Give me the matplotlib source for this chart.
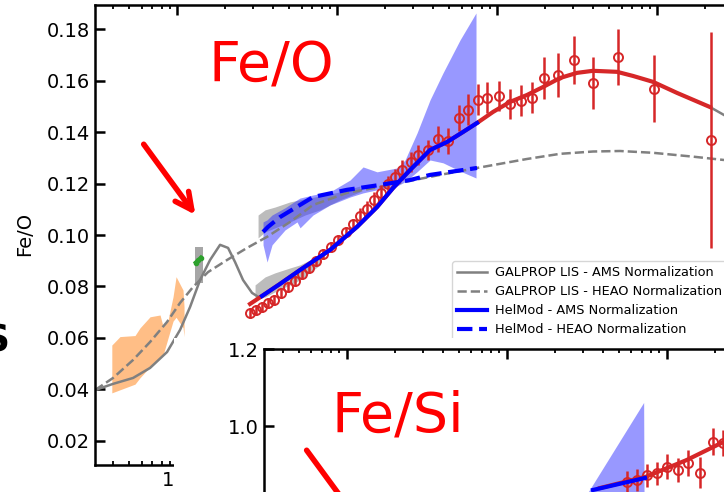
import matplotlib
matplotlib.use('Agg')
import matplotlib.pyplot as plt
from matplotlib.patches import Rectangle
import numpy as np

# ---- Fe/O : AMS data (rigidity GV, ratio, error) ----
ams_r = [2.859, 3.117, 3.398, 3.705, 4.040, 4.467, 4.941, 5.464, 6.043, 6.683, 7.391, 8.175,
         9.173, 10.15, 11.38, 12.59, 13.92, 15.40, 17.03, 18.84, 20.83, 23.04, 25.48, 29.01,
         32.08, 37.05, 42.78, 49.41, 57.88, 65.88, 76.07, 86.60, 102.9, 120.6, 141.3, 165.5,
         196.7, 240.6, 302.9, 398.1, 570.5, 957.8, 2175]
ams_feo = [0.0697, 0.0709, 0.0720, 0.0736, 0.0748, 0.0775, 0.0798, 0.0821, 0.0849, 0.0872,
           0.0899, 0.0927, 0.0954, 0.0981, 0.1012, 0.1043, 0.1074, 0.1102, 0.1137, 0.1164,
           0.1199, 0.1226, 0.1253, 0.1284, 0.1312, 0.1331, 0.1374, 0.1366, 0.1456, 0.1487,
           0.1526, 0.1534, 0.1541, 0.1510, 0.1522, 0.1534, 0.1611, 0.1623, 0.1681, 0.1592,
           0.1693, 0.1569, 0.1370]
ams_err = [0.002, 0.002, 0.002, 0.002, 0.002, 0.002, 0.002, 0.002, 0.002, 0.002, 0.002, 0.002,
           0.002, 0.002, 0.002, 0.002, 0.003, 0.003, 0.003, 0.003, 0.003, 0.003, 0.004, 0.004,
           0.004, 0.004, 0.005, 0.005, 0.005, 0.006, 0.006, 0.006, 0.006, 0.006, 0.006, 0.006,
           0.008, 0.0086, 0.0093, 0.010, 0.011, 0.013, 0.042]

# GALPROP LIS, AMS normalization
lis_ams_r = [0.3073, 0.3981, 0.5309, 0.6780, 0.8660, 1.0441, 1.2058, 1.3925, 1.6081, 1.8571,
             2.0837, 2.3041, 2.5852, 2.9427, 3.3018, 4.404, 5.872, 9.041, 13.34, 17.78, 22.39,
             28.59, 38.14, 48.70, 61.31, 74.99, 94.41, 120.6, 154.0, 193.9, 247.6, 316.2, 398.1,
             562.3, 707.9, 944.1, 1333.5, 2144, 2623]
lis_ams = [0.0397, 0.0421, 0.0444, 0.0483, 0.0545, 0.0631, 0.0720, 0.0825, 0.0903, 0.0962,
           0.0950, 0.0895, 0.0825, 0.0775, 0.0755, 0.0810, 0.0864, 0.0942, 0.1032, 0.1109,
           0.1183, 0.1253, 0.1331, 0.1362, 0.1401, 0.1436, 0.1479, 0.1518, 0.1545, 0.1576,
           0.1611, 0.1631, 0.1639, 0.1635, 0.1619, 0.1596, 0.1553, 0.1498, 0.1467]

# GALPROP LIS, HEAO normalization
lis_heao_r = [0.3073, 0.3981, 0.5309, 0.6780, 0.8660, 1.0441, 1.2589, 1.5625, 2.0535, 2.7384,
              3.6517, 5.0851, 7.0795, 11.548, 18.570, 28.59, 44.03, 74.99, 154.0, 247.6, 398.1,
              587.1, 944.1, 1679, 2623]
lis_heao = [0.0397, 0.0444, 0.0514, 0.0584, 0.0662, 0.0736, 0.0798, 0.0856, 0.0903, 0.0950,
            0.0993, 0.1051, 0.1117, 0.1164, 0.1187, 0.1211, 0.1234, 0.1261, 0.1296, 0.1316,
            0.1325, 0.1327, 0.1320, 0.1305, 0.1292]

# HelMod modulated, AMS normalization (red beyond AMS-Fe range)
hm_r = [2.859, 3.398, 4.404, 5.872, 9.041, 13.34, 17.78, 22.39, 28.59, 38.14, 48.70, 61.31,
        74.99, 94.41, 120.6, 154.0, 193.9, 247.6, 316.2, 398.1, 562.3, 707.9, 944.1, 1333.5, 2144]
hm_ams = [0.0732, 0.0763, 0.0810, 0.0864, 0.0942, 0.1032, 0.1109, 0.1183, 0.1253, 0.1331,
          0.1362, 0.1401, 0.1436, 0.1479, 0.1518, 0.1545, 0.1576, 0.1611, 0.1631, 0.1639,
          0.1635, 0.1619, 0.1596, 0.1553, 0.1498]
hm_blue_r = hm_r[1:13]
hm_blue = hm_ams[1:13]

# HelMod modulated, HEAO normalization
hm_heao_r = [3.447, 3.705, 4.404, 7.080, 11.548, 18.570, 28.59, 38.14, 61.31, 74.99]
hm_heao = [0.1012, 0.1032, 0.1070, 0.1148, 0.1176, 0.1195, 0.1214, 0.1234, 0.1253, 0.1261]

# HEAO band (blue)
band_r = [3.447, 3.652, 3.925, 4.732, 5.623, 5.872, 7.080, 9.041, 12.06, 14.54, 17.78, 23.71,
          26.61, 31.62, 38.14, 45.97, 58.72, 73.9]
band_hi = [0.1051, 0.1059, 0.1078, 0.1106, 0.1137, 0.1144, 0.1156, 0.1168, 0.1214, 0.1265,
           0.1246, 0.1261, 0.1292, 0.1397, 0.1526, 0.1631, 0.1759, 0.1864]
band_lo = [0.0962, 0.0895, 0.0962, 0.1020, 0.1051, 0.1028, 0.1078, 0.1117, 0.1148, 0.1164,
           0.1176, 0.1191, 0.1207, 0.1246, 0.1292, 0.1281, 0.1249, 0.1222]

# gray bands
grayA_r = [3.209, 3.548, 4.097, 5.085, 6.310, 7.830, 10.44, 13.92]
grayA_hi = [0.1078, 0.1098, 0.1109, 0.1129, 0.1141, 0.1152, 0.1168, 0.1191]
grayA_lo = [0.0989, 0.1012, 0.1028, 0.1051, 0.1078, 0.1098, 0.1137, 0.1168]
grayB_r = [3.073, 3.548, 4.097, 5.085, 5.872, 7.830]
grayB_hi = [0.0806, 0.0837, 0.0853, 0.0872, 0.0884, 0.0923]
grayB_lo = [0.0748, 0.0759, 0.0779, 0.0806, 0.0825, 0.0884]

# ACE (orange band)
ace_r = [0.391, 0.440, 0.546, 0.587, 0.678, 0.783, 0.818, 0.879, 0.944, 0.986, 1.09, 1.106]
ace_hi = [0.0572, 0.0605, 0.0609, 0.0639, 0.0682, 0.0689, 0.0644, 0.0670, 0.0760, 0.0838, 0.0786, 0.0721]
ace_lo = [0.0386, 0.0398, 0.0420, 0.0445, 0.0488, 0.0527, 0.0533, 0.0600, 0.0665, 0.0680, 0.0640, 0.0605]

# Voyager
voy_band_r = [1.296, 1.454]
voy_band_hi = [0.0954, 0.0954]
voy_band_lo = [0.0814, 0.0814]
voy_r = [1.31, 1.36, 1.41]
voy = [0.0893, 0.0902, 0.0912]

# ---- Fe/Si inset ----
fesi_r = [562.3, 649.4, 749.9, 866.0, 1000, 1181.5, 1364.6, 1614.4, 1939.7, 2249]
fesi = [0.8548, 0.8592, 0.8722, 0.8767, 0.8939, 0.8853, 0.9043, 0.8782, 0.9591, 0.9557]
fesi_err = [0.029, 0.029, 0.030, 0.030, 0.032, 0.032, 0.034, 0.041, 0.035, 0.035]
fesi_model_r = [383.1, 742.4, 1333.5, 2280]
fesi_model = [0.8383, 0.8678, 0.9113, 0.9591]
fesi_blue_r = [346.1, 731.5]
fesi_blue = [0.8332, 0.8645]
fesi_tri_r = [124.6, 722.8, 731.5]
fesi_tri = [0.5463, 1.060, 0.5463]

W, H = 724, 492
fig = plt.figure(figsize=(W / 100, H / 100), dpi=100)


def px_axes(x0, y0, x1, y1):
    # pixel box (top-left origin) -> figure fraction
    return [x0 / W, 1 - y1 / H, (x1 - x0) / W, (y1 - y0) / H]


ax = fig.add_axes(px_axes(95, 5, 820, 465))
ax.set_xscale('log')

ax.fill_between(ace_r, ace_lo, ace_hi, color='#ff7f0e', alpha=0.5, lw=0)
ax.fill_between(voy_band_r, voy_band_lo, voy_band_hi, color='gray', alpha=0.7, lw=0)
ax.plot(voy_r, voy, color='#2ca02c', lw=3, marker='o', ms=3)
ax.fill_between(grayA_r, grayA_lo, grayA_hi, color='#a0a0a0', alpha=0.7, lw=0)
ax.fill_between(grayB_r, grayB_lo, grayB_hi, color='#a0a0a0', alpha=0.7, lw=0)
ax.fill_between(band_r, band_lo, band_hi, color='#3333ff', alpha=0.5, lw=0)

l1, = ax.plot(lis_ams_r, lis_ams, color='gray', lw=1.8, label='GALPROP LIS - AMS Normalization')
l2, = ax.plot(lis_heao_r, lis_heao, color='gray', lw=1.8, ls='--', label='GALPROP LIS - HEAO Normalization')
ax.plot(hm_r, hm_ams, color='#d62728', lw=3, zorder=3)
ax.errorbar(ams_r, ams_feo, yerr=ams_err, fmt='o', mfc='none', mec='#d62728', ecolor='#d62728',
            ms=6.5, mew=1.4, elinewidth=1.8, zorder=3)
l3, = ax.plot(hm_blue_r, hm_blue, color='blue', lw=3, zorder=4, label='HelMod - AMS Normalization')
l4, = ax.plot(hm_heao_r, hm_heao, color='blue', lw=3, ls='--', zorder=4, label='HelMod - HEAO Normalization')

ax.set_xlim(0.307, 10440)
ax.set_ylim(0.01054, 0.1895)
ax.set_yticks(np.arange(0.02, 0.181, 0.02))
ax.set_yticklabels(['%.2f' % v for v in np.arange(0.02, 0.181, 0.02)])
ax.tick_params(which='both', direction='in', top=True, right=True, labelsize=14, width=1.8)
ax.tick_params(which='major', length=7.5)
ax.tick_params(which='minor', length=3, width=1.3)
ax.tick_params(axis='x', labelbottom=False)
ax.text((168 - 95) / 725, -0.012, '1', transform=ax.transAxes, ha='center', va='top', fontsize=14)
for s in ax.spines.values():
    s.set_linewidth(1.8)

ax.set_ylabel('Fe/O', fontsize=14)
ax.yaxis.set_label_coords(-61 / 725, 1 - 229 / 460)

ax.text(1.5625, 0.1596, 'Fe/O', color='red', fontsize=40, va='baseline')
ax.annotate('', xy=(1.3335, 0.1070), xytext=(0.6043, 0.1362),
            arrowprops=dict(arrowstyle='->', color='red', lw=4, mutation_scale=30))

ax.legend(handles=[l1, l2, l3, l4], fontsize=9.3, loc='upper left', handlelength=2.3,
          bbox_to_anchor=(452 / W, 1 - 261 / H), bbox_transform=fig.transFigure,
          borderaxespad=0, labelspacing=0.47, handletextpad=0.6)

fig.text(9 / W, 1 - 341 / H, 'S', fontsize=27, fontweight='bold', ha='right', va='center')

# white panel behind the inset
fig.patches.append(Rectangle((174 / W, 0), 1, (H - 338) / H, transform=fig.transFigure,
                             facecolor='white', edgecolor='none', zorder=1))

ins = fig.add_axes(px_axes(264, 349.3, 820, 600))
ins.set_zorder(2)
ins.set_xscale('log')
ins.fill(fesi_tri_r, fesi_tri, color='#3333ff', alpha=0.5, lw=0)
ins.plot(fesi_model_r, fesi_model, color='#d62728', lw=3, zorder=3)
ins.errorbar(fesi_r, fesi, yerr=fesi_err, fmt='o', mfc='none', mec='#d62728', ecolor='#d62728',
             ms=6.5, mew=1.4, elinewidth=1.8, zorder=3)
ins.plot(fesi_blue_r, fesi_blue, color='blue', lw=3, zorder=4)
ins.set_xlim(3.041, 9080)
ins.set_ylim(0.5463, 1.2)
ins.set_yticks([1.0, 1.2])
ins.set_yticklabels(['1.0', '1.2'])
ins.tick_params(which='both', direction='in', top=True, right=True, labelsize=14, width=1.8)
ins.tick_params(which='major', length=7.5)
ins.tick_params(which='minor', length=3, width=1.3)
ins.tick_params(axis='x', labelbottom=False)
for s in ins.spines.values():
    s.set_linewidth(1.8)
ins.text(8.09, 0.9844, 'Fe/Si', color='red', fontsize=40, va='baseline')
ins.annotate('', xy=(12.11, 0.747), xytext=(5.486, 0.9426),
             arrowprops=dict(arrowstyle='->', color='red', lw=4, mutation_scale=30))

fig.savefig('out.png', dpi=100)
